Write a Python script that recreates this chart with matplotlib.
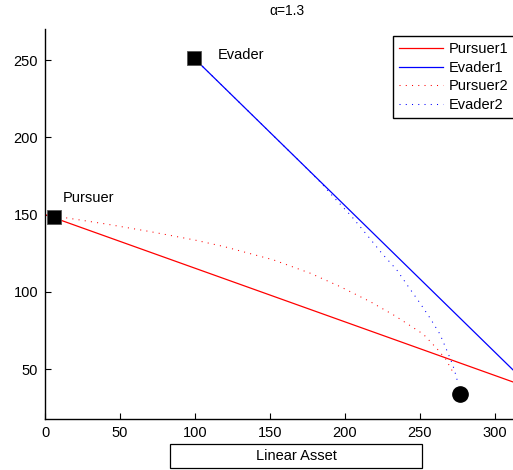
import matplotlib
matplotlib.use("Agg")
import matplotlib.pyplot as plt
from matplotlib.patches import Rectangle

plt.rcParams['font.family'] = ['Liberation Sans', 'DejaVu Sans']
plt.rcParams['font.size'] = 10

# straight-line runs (alpha = 1.3)
pursuer1_x = [0, 322]
pursuer1_y = [150.0, 38.2]
evader1_x = [99.3, 322]
evader1_y = [251.3, 40.0]

# curved runs
pursuer2_x = [5.8, 13.3, 40, 70, 100, 119.3, 152.2, 176.7, 196.7, 216.7,
              233.3, 252.2, 261.6, 267.1, 271.6]
pursuer2_y = [148.4, 148.0, 144.0, 139.0, 133.5, 129.3, 120.7, 112.1, 103.4, 93.7,
              84.5, 72.6, 62.9, 56.5, 48.7]
evader2_x = [99.3, 140, 170, 183.3, 191.1, 204.5, 215.5, 224.5, 234.5, 242.2,
             250, 256.7, 263.3, 268.5, 271.8, 274.5, 275.1]
evader2_y = [251.3, 212.7, 184.2, 171.3, 162.7, 148.7, 135.8, 125.0, 114.2, 103.4,
             92.7, 83.0, 72.6, 60.7, 52.8, 44.2, 40.5]

# start points and asset
pursuer_start = (5.8, 148.4)
evader_start = (99.3, 251.3)
asset_pt = (276.4, 33.9)

W, H = 513, 470
fig = plt.figure(figsize=(W / 100, H / 100), dpi=100)
ax = fig.add_axes([45 / W, 51 / H, 483 / W, 390 / H])

ax.plot(pursuer1_x, pursuer1_y, color='red', lw=0.9, label='Pursuer1')
ax.plot(evader1_x, evader1_y, color='blue', lw=0.9, label='Evader1')
ax.plot(pursuer2_x, pursuer2_y, color='red', lw=0.75, linestyle=(0, (1, 5)), label='Pursuer2')
ax.plot(evader2_x, evader2_y, color='blue', lw=0.75, linestyle=(0, (1, 5)), label='Evader2')

for pt in (pursuer_start, evader_start):
    ax.plot(pt[0], pt[1], marker='s', markersize=10, markerfacecolor='black',
            markeredgecolor='#555555', markeredgewidth=0.6, clip_on=False)
ax.plot(asset_pt[0], asset_pt[1], marker='o', markersize=11, color='black', clip_on=False)

ax.text(12, 161, 'Pursuer', ha='left', va='center', fontsize=10.5)
ax.text(115, 253, 'Evader', ha='left', va='center', fontsize=10.5)

ax.set_xlim(0, 322)
ax.set_ylim(17.7, 270.1)
ax.set_xticks([0, 50, 100, 150, 200, 250, 300])
ax.set_yticks([50, 100, 150, 200, 250])
ax.tick_params(direction='in', length=4, width=0.8, labelsize=10.5, pad=5)
ax.spines['top'].set_visible(False)
ax.spines['right'].set_visible(False)
for s in ('left', 'bottom'):
    ax.spines[s].set_linewidth(1.0)
ax.set_title('α=1.3', fontsize=10, pad=10)

leg = ax.legend(loc='upper left', bbox_to_anchor=(393 / W, 1 - 36 / H),
                bbox_transform=fig.transFigure, borderaxespad=0,
                fancybox=False, framealpha=1, edgecolor='black',
                handlelength=3.0, handletextpad=0.45, labelspacing=0.33,
                borderpad=0.4, fontsize=10.5)
leg.get_frame().set_linewidth(1.0)

# label box under the axis
fig.patches.append(Rectangle((170 / W, 2 / H), 252 / W, 24 / H, transform=fig.transFigure,
                             facecolor='white', edgecolor='black', lw=0.9))
fig.text(296 / W, 1 - 456 / H, 'Linear Asset', ha='center', va='center', fontsize=10.5)

fig.savefig('out.png', dpi=100)
